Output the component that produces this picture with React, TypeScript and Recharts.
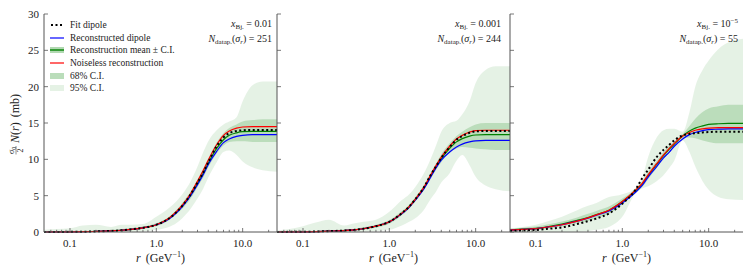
import { ComposedChart, Line, Area, XAxis, YAxis, Legend } from 'recharts';

// radius grid shared by the three panels (GeV^-1)
const rValues = [0.05, 0.07, 0.1, 0.14, 0.2, 0.3, 0.4, 0.5, 0.7, 1.0, 1.4, 1.7, 2.0, 2.5, 3.0, 3.5, 4.0, 5.0, 6.0, 7.0, 8.5, 10, 13, 17, 25];

// x_Bj = 0.01
const fit1 = [0, 0.01, 0.02, 0.04, 0.08, 0.15, 0.24, 0.35, 0.58, 1.0, 1.85, 2.7, 3.6, 5.2, 6.8, 8.2, 9.6, 11.8, 13.0, 13.6, 13.9, 14.0, 14.05, 14.05, 14.05];
const rec1 = [0, 0.01, 0.02, 0.04, 0.08, 0.15, 0.24, 0.35, 0.58, 1.0, 1.8, 2.6, 3.5, 5.0, 6.5, 7.9, 9.3, 11.1, 12.3, 12.8, 13.15, 13.3, 13.4, 13.4, 13.4];
const mean1 = [0, 0.01, 0.02, 0.04, 0.08, 0.15, 0.24, 0.35, 0.58, 1.0, 1.85, 2.7, 3.6, 5.1, 6.7, 8.1, 9.5, 11.5, 12.7, 13.3, 13.65, 13.8, 13.85, 13.85, 13.85];
const noiseless1 = [0, 0.01, 0.02, 0.04, 0.08, 0.15, 0.24, 0.35, 0.58, 1.0, 1.9, 2.8, 3.7, 5.3, 7.0, 8.5, 9.9, 12.0, 13.3, 13.9, 14.3, 14.45, 14.5, 14.5, 14.5];
const hi95_1 = [0.3, 0.4, 0.5, 0.9, 1.0, 0.7, 1.0, 1.0, 1.1, 2.1, 3.3, 4.2, 5.2, 7.0, 9.0, 11.0, 12.5, 14.0, 14.8, 15.2, 15.8, 18.0, 20.2, 20.7, 20.7];
const lo95_1 = [0, 0, 0, 0, 0, 0, 0, 0, 0.1, 0.3, 0.7, 1.2, 1.9, 3.2, 4.6, 6.0, 7.5, 9.6, 11.0, 11.2, 10.6, 9.7, 8.9, 8.5, 8.3];
const hi68_1 = [0.05, 0.06, 0.08, 0.12, 0.2, 0.3, 0.4, 0.5, 0.75, 1.2, 2.1, 3.0, 4.0, 5.6, 7.2, 8.7, 10.1, 12.3, 13.6, 14.3, 14.8, 15.2, 15.4, 15.5, 15.5];
const lo68_1 = [0, 0, 0, 0, 0, 0.05, 0.1, 0.2, 0.4, 0.8, 1.6, 2.4, 3.2, 4.6, 6.2, 7.5, 8.9, 10.8, 11.9, 12.4, 12.5, 12.5, 12.4, 12.4, 12.4];

// x_Bj = 0.001
const fit2 = [0.01, 0.02, 0.03, 0.06, 0.12, 0.2, 0.3, 0.45, 0.8, 1.4, 2.6, 3.5, 4.5, 6.1, 7.8, 9.1, 10.2, 11.7, 12.7, 13.2, 13.65, 13.85, 13.9, 13.9, 13.9];
const rec2 = [0.01, 0.02, 0.03, 0.06, 0.12, 0.2, 0.3, 0.45, 0.8, 1.4, 2.55, 3.4, 4.4, 5.9, 7.5, 8.9, 9.9, 11.0, 11.7, 12.1, 12.4, 12.55, 12.6, 12.6, 12.6];
const mean2 = [0.01, 0.02, 0.03, 0.06, 0.12, 0.2, 0.3, 0.45, 0.8, 1.4, 2.6, 3.5, 4.5, 6.0, 7.7, 9.0, 10.1, 11.5, 12.4, 12.85, 13.2, 13.35, 13.4, 13.4, 13.4];
const noiseless2 = [0.01, 0.02, 0.03, 0.06, 0.12, 0.2, 0.3, 0.45, 0.8, 1.4, 2.6, 3.5, 4.5, 6.1, 7.8, 9.2, 10.3, 11.8, 12.8, 13.3, 13.75, 13.95, 14.0, 14.0, 14.0];
const hi95_2 = [0.2, 0.4, 0.8, 1.3, 1.7, 0.9, 1.2, 1.4, 1.7, 2.8, 4.4, 5.2, 6.2, 8.0, 10.0, 12.0, 13.8, 15.0, 15.3, 16.2, 18.0, 20.5, 22.3, 22.8, 22.8];
const lo95_2 = [0, 0, 0, 0, 0, 0, 0, 0.05, 0.15, 0.3, 0.9, 1.4, 1.9, 3.0, 4.5, 5.6, 6.8, 8.1, 9.8, 10.6, 9.2, 7.6, 6.4, 5.9, 5.6];
const hi68_2 = [0.06, 0.08, 0.1, 0.15, 0.25, 0.35, 0.45, 0.65, 1.0, 1.65, 2.9, 3.8, 4.8, 6.4, 8.1, 9.5, 10.7, 12.2, 13.2, 13.8, 14.4, 14.8, 15.0, 15.0, 15.0];
const lo68_2 = [0, 0, 0, 0.02, 0.06, 0.1, 0.18, 0.3, 0.6, 1.15, 2.3, 3.2, 4.2, 5.7, 7.3, 8.6, 9.6, 10.9, 11.5, 11.7, 11.6, 11.5, 11.4, 11.3, 11.3];

// x_Bj = 1e-5
const fit3 = [0.14, 0.2, 0.28, 0.45, 0.64, 1.1, 1.5, 1.85, 2.55, 3.9, 5.7, 7.4, 8.6, 10.3, 11.3, 12.0, 12.6, 13.3, 13.5, 13.6, 13.7, 13.75, 13.8, 13.8, 13.8];
const rec3 = [0.25, 0.35, 0.47, 0.7, 1.0, 1.5, 1.9, 2.3, 2.9, 4.0, 5.4, 6.4, 7.6, 9.0, 10.2, 11.0, 11.8, 12.8, 13.4, 13.7, 13.95, 14.1, 14.15, 14.2, 14.2];
const mean3 = [0.3, 0.4, 0.5, 0.75, 1.1, 1.6, 2.0, 2.4, 3.0, 4.2, 5.6, 6.6, 7.8, 9.3, 10.5, 11.4, 12.1, 13.2, 13.9, 14.3, 14.6, 14.8, 14.9, 14.95, 14.95];
const noiseless3 = [0.25, 0.35, 0.47, 0.7, 1.0, 1.5, 1.95, 2.35, 3.0, 4.2, 5.7, 6.7, 7.9, 9.4, 10.6, 11.5, 12.2, 13.2, 13.7, 14.0, 14.2, 14.3, 14.35, 14.35, 14.35];
const hi95_3 = [0.5, 0.7, 1.0, 1.5, 2.1, 3.0, 3.6, 4.0, 4.8, 5.2, 6.0, 7.5, 10.4, 13.0, 14.0, 14.2, 14.2, 13.8, 16.5, 20.0, 22.3, 23.6, 25.2, 26.1, 26.6];
const lo95_3 = [0, 0, 0, 0.02, 0.05, 0.05, 0.1, 0.3, 0.7, 2.1, 5.2, 6.0, 6.3, 7.0, 7.8, 8.8, 9.8, 12.6, 11.0, 9.0, 7.0, 5.8, 4.8, 4.5, 4.4];
const hi68_3 = [0.45, 0.6, 0.75, 1.05, 1.45, 2.0, 2.5, 2.9, 3.5, 4.6, 5.9, 7.0, 8.3, 9.8, 11.0, 11.9, 12.5, 13.5, 14.6, 15.6, 16.5, 17.0, 17.3, 17.5, 17.5];
const lo68_3 = [0.15, 0.2, 0.3, 0.45, 0.75, 1.2, 1.5, 1.9, 2.5, 3.8, 5.3, 6.2, 7.3, 8.8, 10.0, 10.9, 11.7, 12.9, 13.0, 12.9, 12.6, 12.4, 12.2, 12.2, 12.2];

const xMajor = [0.1, 1, 10];
const xMajorLabels = ['0.1', '1.0', '10.0'];
const xTicks = [0.06, 0.07, 0.08, 0.09, 0.1, 0.2, 0.3, 0.4, 0.5, 0.6, 0.7, 0.8, 0.9, 1, 2, 3, 4, 5, 6, 7, 8, 9, 10, 20];
const yTicks = [0, 5, 10, 15, 20, 25, 30];

const legendItems = [
  { key: 'fit', label: 'Fit dipole' },
  { key: 'rec', label: 'Reconstructed dipole' },
  { key: 'mean', label: 'Reconstruction mean \u00b1 C.I.' },
  { key: 'noiseless', label: 'Noiseless reconstruction' },
  { key: 'c68', label: '68% C.I.' },
  { key: 'c95', label: '95% C.I.' },
];

const FONT = '"Liberation Serif", "DejaVu Serif", serif';
const RED = '#ff0000';
const BLUE = '#0000ff';
const GREEN = '#008000';
const SPINE = '#555';
const TEXT = '#222';

function buildRows(fit, rec, mean, noiseless, lo68, hi68, lo95, hi95) {
  return rValues.map((r, i) => ({
    r,
    fit: fit[i],
    rec: rec[i],
    mean: mean[i],
    noiseless: noiseless[i],
    ci68: [lo68[i], hi68[i]],
    ci95: [lo95[i], hi95[i]],
  }));
}

const panels = [
  { rows: buildRows(fit1, rec1, mean1, noiseless1, lo68_1, hi68_1, lo95_1, hi95_1), x: '0.01', sup: null, n: '251', left: 0, pad: 5 },
  { rows: buildRows(fit2, rec2, mean2, noiseless2, lo68_2, hi68_2, lo95_2, hi95_2), x: '0.001', sup: null, n: '244', left: 233, pad: 9 },
  { rows: buildRows(fit3, rec3, mean3, noiseless3, lo68_3, hi68_3, lo95_3, hi95_3), x: '10', sup: '\u22125', n: '55', left: 466, pad: 5 },
];

const XTick = ({ x, y, payload }) => {
  const idx = xMajor.indexOf(payload.value);
  const major = idx >= 0;
  return (
    <g>
      <line x1={x} x2={x} y1={y} y2={y - (major ? 4 : 2.2)} stroke={SPINE} strokeWidth={0.8} />
      {major && (
        <text x={x} y={y + 15} textAnchor="middle" fontSize={11} fontFamily={FONT} fill={TEXT}>
          {xMajorLabels[idx]}
        </text>
      )}
    </g>
  );
};

const makeYTick = (withLabel) => ({ x, y, payload }) => (
  <g>
    <line x1={x} x2={x + 4} y1={y} y2={y} stroke={SPINE} strokeWidth={0.8} />
    {withLabel && (
      <text x={x - 5} y={y + 4} textAnchor="end" fontSize={11} fontFamily={FONT} fill={TEXT}>
        {payload.value}
      </text>
    )}
  </g>
);

const XLabel = ({ viewBox }) => {
  const cx = viewBox.x + viewBox.width / 2;
  return (
    <text x={cx} y={viewBox.y + 30} textAnchor="middle" fontSize={12} fontFamily={FONT} fill={TEXT}>
      <tspan fontStyle="italic">r</tspan>
      <tspan dx={5}>(GeV</tspan>
      <tspan dy={-5} fontSize={8}>{'\u22121'}</tspan>
      <tspan dy={5}>)</tspan>
    </text>
  );
};

const YLabel = ({ viewBox }) => {
  const cy = viewBox.y + viewBox.height / 2;
  return (
    <g transform={`translate(15,${cy}) rotate(-90)`} fontFamily={FONT} fill={TEXT}>
      <text x={-31} y={-1} fontSize={8}>
        {'\u03c3'}
        <tspan fontSize={6} dy={1.5}>0</tspan>
      </text>
      <line x1={-31.5} x2={-23} y1={1} y2={1} stroke={TEXT} strokeWidth={0.5} />
      <text x={-29.5} y={7.5} fontSize={8}>2</text>
      <text x={-20} y={4} fontSize={12}>
        <tspan fontStyle="italic">N</tspan>(<tspan fontStyle="italic">r</tspan>)<tspan dx={5}>(mb)</tspan>
      </text>
    </g>
  );
};

const sub = { fontSize: 7, position: 'relative', top: 2 };
const sup = { fontSize: 7, position: 'relative', top: -4 };

const InfoBox = ({ p }) => (
  <div style={{ position: 'absolute', right: 1 + p.pad, top: 17, textAlign: 'right', fontFamily: FONT, fontSize: 10, lineHeight: '13px', color: TEXT, whiteSpace: 'nowrap' }}>
    <div>
      <i>x</i>
      <span style={sub}>Bj.</span> = {p.x}
      {p.sup && <span style={sup}>{p.sup}</span>}
    </div>
    <div>
      <i>N</i>
      <span style={sub}>datap.</span>(<i>{'\u03c3'}</i>
      <span style={sub}>
        <i>r</i>
      </span>
      ) = {p.n}
    </div>
  </div>
);

const LegendHandle = ({ k }) => {
  if (k === 'fit') return <line x1={1} x2={14} y1={4} y2={4} stroke="#000" strokeWidth={2} strokeDasharray="2 2.5" />;
  if (k === 'rec') return <line x1={0} x2={14} y1={4} y2={4} stroke={BLUE} strokeWidth={1.2} />;
  if (k === 'noiseless') return <line x1={0} x2={14} y1={4} y2={4} stroke={RED} strokeWidth={1.2} />;
  if (k === 'mean')
    return (
      <g>
        <rect x={0} y={1} width={14} height={6} fill={GREEN} fillOpacity={0.3} />
        <line x1={0} x2={14} y1={4} y2={4} stroke={GREEN} strokeWidth={1.4} />
      </g>
    );
  if (k === 'c68') return <rect x={0} y={1} width={14} height={6} fill={GREEN} fillOpacity={0.27} />;
  return <rect x={0} y={1} width={14} height={6} fill={GREEN} fillOpacity={0.1} />;
};

const LegendBox = () => (
  <div style={{ position: 'absolute', left: 50, top: 19, fontFamily: FONT, fontSize: 9.5, color: TEXT }}>
    {legendItems.map((item) => (
      <div key={item.key} style={{ display: 'flex', alignItems: 'center', height: 12.6, whiteSpace: 'nowrap' }}>
        <svg width={14} height={8}>
          <LegendHandle k={item.key} />
        </svg>
        <span style={{ marginLeft: 6 }}>{item.label}</span>
      </div>
    ))}
  </div>
);

function Panel({ p, first }) {
  return (
    <div style={{ position: 'absolute', left: p.left, top: 0 }}>
      <ComposedChart width={278} height={276} data={p.rows} margin={{ top: 14, right: 1, bottom: 0, left: 0 }}>
        <XAxis
          dataKey="r"
          type="number"
          scale="log"
          domain={[0.05, 25]}
          allowDataOverflow
          ticks={xTicks}
          interval={0}
          tick={XTick}
          tickLine={false}
          tickSize={0}
          tickMargin={0}
          height={44}
          axisLine={{ stroke: SPINE, strokeWidth: 1 }}
          label={<XLabel />}
        />
        <XAxis
          xAxisId="top"
          dataKey="r"
          type="number"
          scale="log"
          domain={[0.05, 25]}
          allowDataOverflow
          orientation="top"
          height={0}
          tick={false}
          tickLine={false}
          axisLine={{ stroke: SPINE, strokeWidth: 1 }}
        />
        <YAxis
          type="number"
          domain={[0, 30]}
          ticks={yTicks}
          interval={0}
          width={44}
          tick={makeYTick(first)}
          tickLine={false}
          tickSize={0}
          tickMargin={0}
          axisLine={{ stroke: SPINE, strokeWidth: 1 }}
          label={first ? <YLabel /> : undefined}
        />
        <YAxis
          yAxisId="right"
          orientation="right"
          type="number"
          domain={[0, 30]}
          width={0}
          tick={false}
          tickLine={false}
          axisLine={{ stroke: SPINE, strokeWidth: 1 }}
        />
        <Area type="monotone" dataKey="ci95" stroke="none" fill={GREEN} fillOpacity={0.1} isAnimationActive={false} activeDot={false} />
        <Area type="monotone" dataKey="ci68" stroke="none" fill={GREEN} fillOpacity={0.18} isAnimationActive={false} activeDot={false} />
        <Line type="monotone" dataKey="mean" stroke={GREEN} strokeWidth={1.2} dot={false} activeDot={false} isAnimationActive={false} />
        <Line type="monotone" dataKey="rec" stroke={BLUE} strokeWidth={1.2} dot={false} activeDot={false} isAnimationActive={false} />
        <Line type="monotone" dataKey="noiseless" stroke={RED} strokeWidth={1.2} dot={false} activeDot={false} isAnimationActive={false} />
        <Line type="monotone" dataKey="fit" stroke="#000" strokeWidth={2} strokeDasharray="2 2.5" dot={false} activeDot={false} isAnimationActive={false} />
        <Legend
          layout="vertical"
          align="center"
          verticalAlign="middle"
          content={() => (
            <div style={{ position: 'relative', width: 278, height: 276 }}>
              {first && <LegendBox />}
              <InfoBox p={p} />
            </div>
          )}
          wrapperStyle={{ position: 'absolute', left: 0, top: 0, width: 278, height: 276, pointerEvents: 'none' }}
        />
      </ComposedChart>
    </div>
  );
}

export default function App() {
  return (
    <div style={{ position: 'absolute', left: 0, top: 0, width: 753, height: 276, background: '#fff' }}>
      {panels.map((p, i) => (
        <Panel key={i} p={p} first={i === 0} />
      ))}
    </div>
  );
}
